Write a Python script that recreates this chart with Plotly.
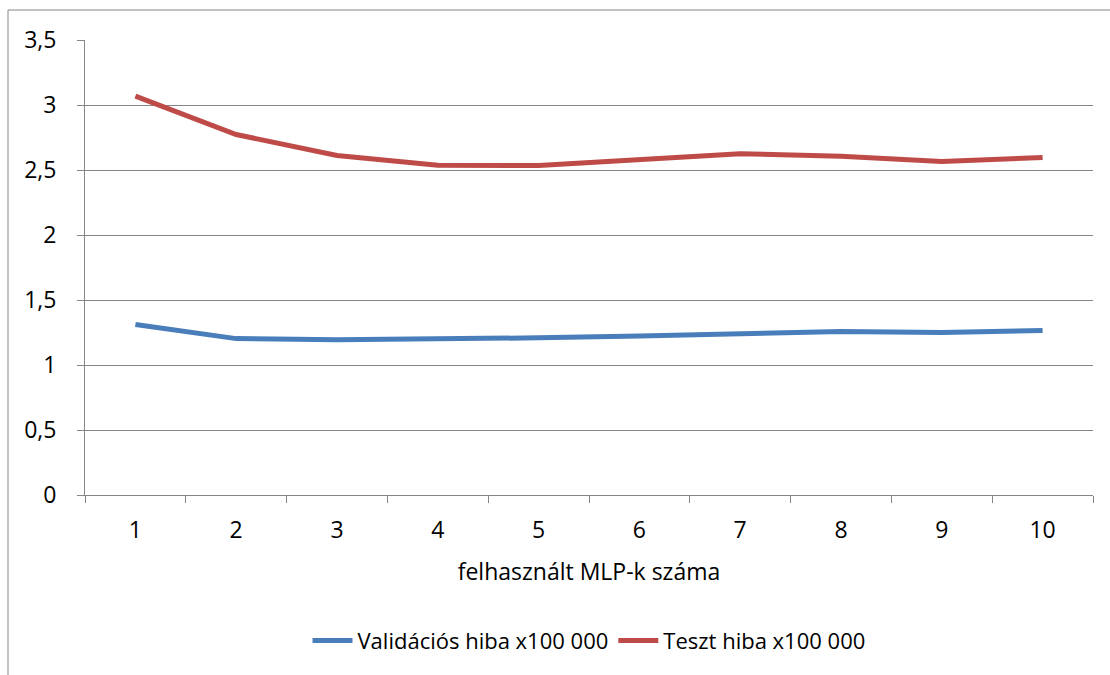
import plotly.graph_objects as go

categories = ["1", "2", "3", "4", "5", "6", "7", "8", "9", "10"]
validacios = [1.312, 1.203, 1.194, 1.197, 1.209, 1.224, 1.236, 1.257, 1.250, 1.266]
teszt = [3.068, 2.773, 2.612, 2.536, 2.535, 2.578, 2.625, 2.605, 2.565, 2.597]
y_ticks = [0, 0.5, 1, 1.5, 2, 2.5, 3, 3.5]

FONT = "Open Sans, sans-serif"
GRAY = "#868686"

fig = go.Figure()
fig.add_trace(go.Scatter(x=categories, y=validacios, mode="lines",
                         name="Validációs hiba x100 000",
                         line=dict(color="#4A7EBB", width=5)))
fig.add_trace(go.Scatter(x=categories, y=teszt, mode="lines",
                         name="Teszt hiba x100 000",
                         line=dict(color="#BE4B48", width=5)))

fig.update_layout(
    width=1110, height=675,
    margin=dict(l=85, r=17, t=40, b=180),
    paper_bgcolor="white", plot_bgcolor="white",
    separators=", ",
    font=dict(family=FONT, size=23, color="#000000"),
    showlegend=True,
    legend=dict(orientation="h", x=0.5, xanchor="center", y=-0.32, yanchor="middle",
                font=dict(family=FONT, size=22), itemwidth=40, tracegroupgap=0),
    xaxis=dict(type="category", range=[-0.5, 9.5], showgrid=False,
               showline=True, linecolor=GRAY, linewidth=1,
               ticks="outside", tickson="boundaries", ticklen=7, tickcolor=GRAY,
               ticklabelstandoff=14,
               title=dict(text="felhasznált MLP-k száma", standoff=20,
                          font=dict(family=FONT, size=23))),
    yaxis=dict(range=[0, 3.5], tickvals=y_ticks, showgrid=True, gridcolor=GRAY,
               gridwidth=1, showline=True, linecolor=GRAY, linewidth=1,
               ticks="outside", ticklen=7, tickcolor=GRAY, ticklabelstandoff=16,
               zeroline=False, tickformat=".1~f"),
    shapes=[dict(type="rect", xref="paper", yref="paper",
                 x0=(8 - 85) / 1008, x1=1.2, y0=-0.6, y1=1 + (40 - 10) / 455,
                 line=dict(color=GRAY, width=1), fillcolor="rgba(0,0,0,0)",
                 layer="below")],
)

fig.write_html("out.html")
